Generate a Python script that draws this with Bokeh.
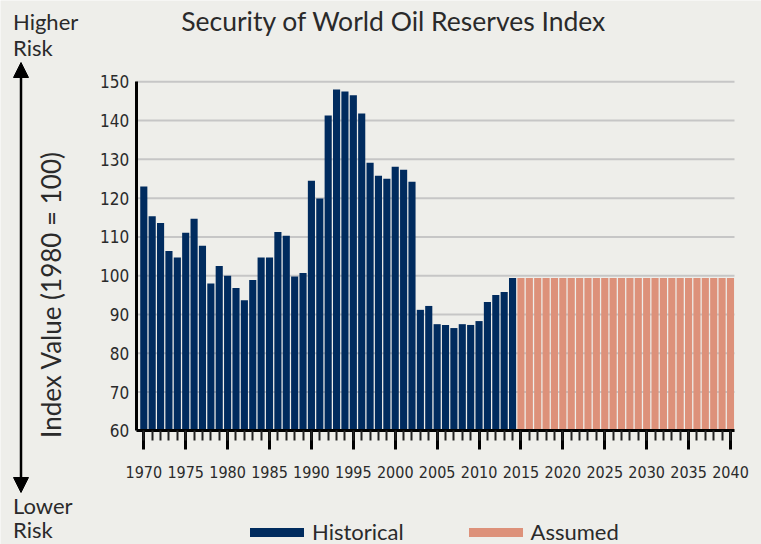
import math
from bokeh.plotting import figure
from bokeh.models import (Range1d, SingleIntervalTicker, FixedTicker, Arrow,
                          NormalHead, Legend, LegendItem)
from bokeh.core.properties import value
from bokeh.embed import file_html
from bokeh.resources import INLINE

# ---------------- data ----------------
hist_years = list(range(1970, 2015))
hist_values = [123.0, 115.3, 113.6, 106.4, 104.7, 111.1, 114.7, 107.7, 98.0, 102.5,
               100.0, 96.8, 93.7, 98.9, 104.7, 104.7, 111.3, 110.3, 99.8, 100.7,
               124.5, 119.9, 141.3, 148.0, 147.5, 146.5, 141.8, 129.1, 125.8, 125.0,
               128.1, 127.3, 124.2, 91.2, 92.2, 87.5, 87.3, 86.5, 87.5, 87.3,
               88.3, 93.2, 95.0, 95.8, 99.4]
assumed_years = list(range(2015, 2041))
assumed_values = [99.4, 99.4, 99.4, 99.4, 99.4, 99.4, 99.4, 99.4, 99.4, 99.4,
                  99.4, 99.4, 99.4, 99.4, 99.4, 99.4, 99.4, 99.4, 99.4, 99.4,
                  99.4, 99.4, 99.4, 99.4, 99.4, 99.4]
y_ticks = [60, 70, 80, 90, 100, 110, 120, 130, 140, 150]
title_text = "Security of World Oil Reserves Index"
y_label_text = "Index Value (1980 = 100)"
risk_texts = ["Higher", "Risk", "Lower", "Risk"]
series_names = ["Historical", "Assumed"]

# ---------------- style ----------------
BG = "#eeeeea"
BLUE = "#002b5e"
ORANGE = "#dd917a"
GRID = "#c6c6c6"
TXT = "#2a2a2a"
SANS = "Lato"
NARROW = "DejaVu Sans Condensed"

W, H = 761, 544
PXY = 8.381   # pixels per year
PXU = 3.878   # pixels per index unit
XS = 1970 - 143.3 / PXY
XE = XS + W / PXY
YE = 150 + 81.3 / PXU
YS = YE - H / PXU


def DX(px):
    return XS + px / PXY


def DY(py):
    return YE - py / PXU


def BASE(fs):
    # offset between requested and drawn alphabetic baseline
    return 0.38 * fs


AX_L, AX_R = DX(135.7), DX(734)

p = figure(width=W, height=H, x_range=Range1d(XS, XE), y_range=Range1d(YS, YE),
           output_backend="svg", toolbar_location=None,
           min_border_left=0, min_border_right=0, min_border_top=0, min_border_bottom=0)
p.background_fill_color = BG
p.border_fill_color = BG
p.outline_line_color = None
p.xgrid.grid_line_color = None
p.ygrid.grid_line_color = None

# horizontal gridlines
p.segment(x0=[AX_L] * len(y_ticks), x1=[AX_R] * len(y_ticks), y0=y_ticks, y1=y_ticks,
          line_color=GRID, line_width=2)

# bars
p.vbar(x=hist_years, top=hist_values, bottom=60, width=0.85,
       fill_color=BLUE, line_color=None)
p.vbar(x=assumed_years, top=assumed_values, bottom=60, width=0.85,
       fill_color=ORANGE, line_color=None)

# axes
xa = p.xaxis[0]
xa.fixed_location = 60
xa.bounds = (AX_L, AX_R)
xa.ticker = SingleIntervalTicker(interval=5, num_minor_ticks=5)
xa.axis_line_width = 3
xa.axis_line_color = "black"
xa.major_tick_line_width = 3
xa.major_tick_line_color = "black"
xa.major_tick_out = 19
xa.major_tick_in = 0
xa.minor_tick_line_width = 2
xa.minor_tick_line_color = "#222222"
xa.minor_tick_out = 10
xa.minor_tick_in = 0
xa.major_label_standoff = 16
xa.major_label_text_font = NARROW
xa.major_label_text_font_size = "16px"
xa.major_label_text_color = TXT

ya = p.yaxis[0]
ya.fixed_location = AX_L
ya.bounds = (60, 150)
ya.ticker = FixedTicker(ticks=y_ticks)
ya.axis_line_width = 3
ya.axis_line_color = "black"
ya.major_tick_out = 0
ya.major_tick_in = 0
ya.minor_tick_line_color = None
ya.major_label_standoff = 7
ya.major_label_text_font = NARROW
ya.major_label_text_font_size = "17px"
ya.major_label_text_color = TXT

# texts
TFS, YFS, RFS = 26.5, 26, 22
p.text(x=[DX(393.5)], y=[DY(31 - BASE(TFS))], text=[title_text], text_align="center",
       text_baseline="alphabetic", text_font=value(SANS), text_font_size=f"{TFS}px",
       text_color=TXT)
p.text(x=[DX(60 - BASE(YFS))], y=[DY(294)], text=[y_label_text], angle=math.pi / 2,
       text_align="center", text_baseline="alphabetic", text_font=value(SANS),
       text_font_size=f"{YFS}px", text_color=TXT)
risk_y = [29.3, 55, 513, 537]
p.text(x=[DX(12.5)] * 4, y=[DY(v - BASE(RFS)) for v in risk_y], text=risk_texts,
       text_align="left", text_baseline="alphabetic", text_font=value(SANS),
       text_font_size=f"{RFS}px", text_color=TXT)

p.add_layout(Arrow(x_start=DX(20.5), y_start=DY(492), x_end=DX(20.5), y_end=DY(62),
                   line_width=2.5, line_color="black",
                   start=NormalHead(size=15, fill_color="black", line_color="black"),
                   end=NormalHead(size=15, fill_color="black", line_color="black")))

# legends (invisible renderers only provide the swatch style)
d1 = p.line(x=[2000, 2001], y=[float("nan"), float("nan")], line_color=BLUE,
            line_width=9, line_cap="round")
d2 = p.line(x=[2000, 2001], y=[float("nan"), float("nan")], line_color=ORANGE,
            line_width=9, line_cap="round")
for rend, name, vx in [(d1, series_names[0], 250), (d2, series_names[1], 468.5)]:
    lg = Legend(items=[LegendItem(label=name, renderers=[rend])],
                location=(vx, -1), orientation="horizontal",
                glyph_width=54, glyph_height=26, label_height=26, label_standoff=8,
                padding=0, margin=0, label_text_font=SANS, label_text_font_size="22px",
                label_text_color=TXT, background_fill_alpha=0, border_line_alpha=0)
    p.add_layout(lg, "center")

open("out.html", "w").write(file_html(p, INLINE))
